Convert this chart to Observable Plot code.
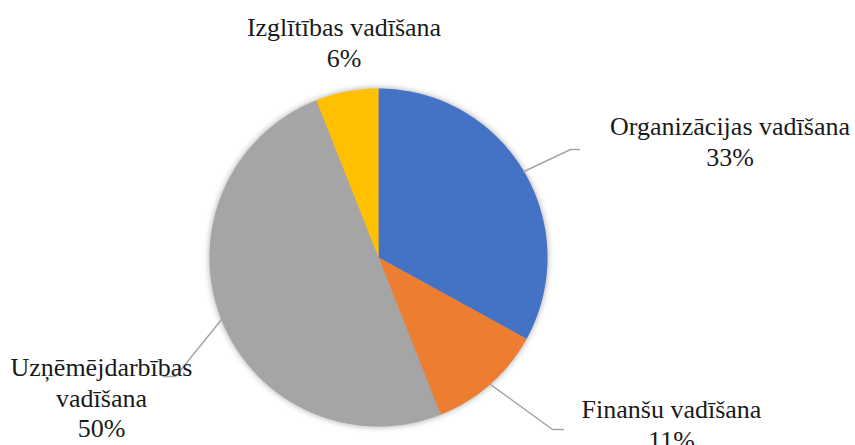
<!DOCTYPE html>
<html>
<head>
<meta charset="utf-8">
<script src="https://cdn.jsdelivr.net/npm/d3@7"></script>
<script src="https://cdn.jsdelivr.net/npm/@observablehq/plot@0.6"></script>
<style>
  html, body { margin: 0; padding: 0; background: #fff; }
  #chart text { font-family: "Liberation Serif", "Times New Roman", "DejaVu Serif", serif; }
</style>
</head>
<body>
<div id="chart"></div>
<script>
// ---- data ----
const categories = ["Organizācijas vadīšana", "Finanšu vadīšana", "Uzņēmējdarbības vadīšana", "Izglītības vadīšana"];
const labelLines = [["Organizācijas vadīšana"], ["Finanšu vadīšana"], ["Uzņēmējdarbības", "vadīšana"], ["Izglītības vadīšana"]];
const values = [33, 11, 50, 6];
const colors = ["#4472C4", "#ED7D31", "#A5A5A5", "#FFC000"];

// ---- layout (pixels) ----
const W = 855, H = 445;
const center = [378, 257];
const radius = 169;
const labelAnchor = [[729.5, 113.5], [671, 396.5], [101, 354.5], [343.5, 14.5]];
const leaderBend = [[[570, 149], [579, 149]], [[552, 429], [563, 429]], [[175, 376], [163, 376]], null];

// ---- geometry from data ----
const arcs = d3.pie().sort(null).value(d => d)(values);
const pt = (a, r) => [center[0] + r * Math.sin(a), center[1] - r * Math.cos(a)];
const slicePts = [];
arcs.forEach((a, i) => {
  const n = Math.max(2, Math.ceil((a.endAngle - a.startAngle) / 0.01));
  slicePts.push({name: categories[i], x: center[0], y: center[1]});
  for (let k = 0; k <= n; k++) {
    const ang = a.startAngle + (a.endAngle - a.startAngle) * k / n;
    const [x, y] = pt(ang, radius);
    slicePts.push({name: categories[i], x, y});
  }
});
const leaderPts = [];
arcs.forEach((a, i) => {
  if (!leaderBend[i]) return;
  const mid = (a.startAngle + a.endAngle) / 2;
  const [x0, y0] = pt(mid, radius);
  leaderPts.push({name: categories[i], x: x0, y: y0});
  leaderBend[i].forEach(([x, y]) => leaderPts.push({name: categories[i], x, y}));
});
const labels = categories.map((c, i) => ({
  name: c,
  text: [...labelLines[i], `${values[i]}%`].join("\n"),
  x: labelAnchor[i][0], y: labelAnchor[i][1]
}));

const chart = Plot.plot({
  width: W, height: H,
  margin: 0,
  x: {domain: [0, W], range: [0, W], axis: null},
  y: {domain: [0, H], range: [0, H], axis: null},
  color: {domain: categories, range: colors},
  style: {background: "#fff"},
  marks: [
    Plot.line(slicePts, {x: "x", y: "y", z: "name", fill: "name", stroke: "none", curve: "linear-closed"}),
    Plot.line(leaderPts, {x: "x", y: "y", z: "name", stroke: "#A6A6A6", strokeWidth: 1.5}),
    Plot.text(labels, {x: "x", y: "y", text: "text", lineAnchor: "top", lineHeight: 1.16,
      fontSize: 26, fontFamily: "Liberation Serif", fill: "#1a1a1a", textAnchor: "middle"})
  ]
});
const pieG = chart.querySelector('g[aria-label="line"]');
if (pieG) pieG.style.filter = "drop-shadow(0 0 3px rgba(0,0,0,0.35))";
document.getElementById("chart").appendChild(chart);
</script>
</body>
</html>
